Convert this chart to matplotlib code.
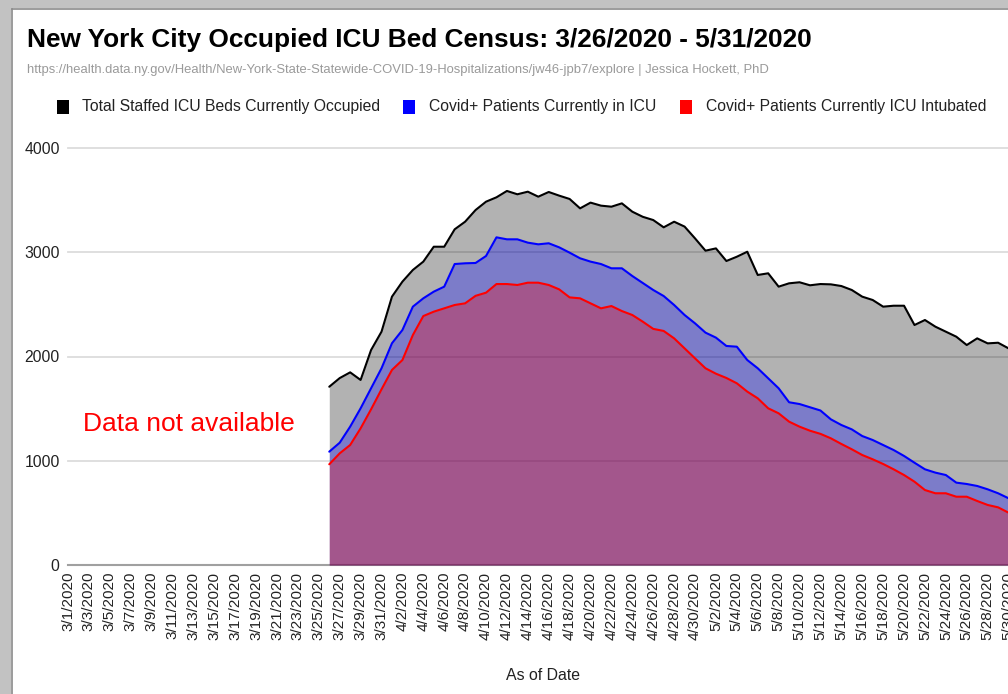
import matplotlib
matplotlib.use('Agg')
import matplotlib.pyplot as plt
from matplotlib.patches import Rectangle
from matplotlib.lines import Line2D
import numpy as np
import pandas as pd

plt.rcParams['font.family'] = ['Liberation Sans', 'DejaVu Sans']

# ---------------- data ----------------
dates = pd.date_range('2020-03-01', '2020-05-31', freq='D')
date_labels = [f"{d.month}/{d.day}/{d.year}" for d in dates]
data_start = "3/26/2020"

total_occupied = [1710, 1793, 1848, 1775, 2062, 2238, 2574, 2718, 2830, 2910,
                  3053, 3053, 3220, 3293, 3405, 3485, 3527, 3588, 3556, 3581,
                  3533, 3578, 3543, 3511, 3421, 3476, 3447, 3437, 3469, 3389,
                  3340, 3309, 3239, 3293, 3246, 3133, 3015, 3037, 2916, 2957,
                  3005, 2782, 2798, 2670, 2702, 2712, 2683, 2695, 2692, 2676,
                  2638, 2574, 2542, 2478, 2487, 2487, 2302, 2350, 2286, 2238,
                  2190, 2110, 2174, 2126, 2132, 2078, 2060]
covid_icu = [1087, 1173, 1327, 1503, 1695, 1887, 2127, 2254, 2478, 2558,
             2622, 2670, 2887, 2894, 2897, 2964, 3143, 3124, 3124, 3092,
             3076, 3086, 3047, 2996, 2942, 2910, 2887, 2846, 2846, 2772,
             2705, 2638, 2580, 2494, 2398, 2318, 2229, 2181, 2101, 2094,
             1966, 1887, 1791, 1695, 1561, 1544, 1513, 1482, 1397, 1343,
             1301, 1237, 1199, 1151, 1103, 1046, 981, 918, 886, 863,
             790, 777, 758, 726, 688, 640, 610]
covid_intubated = [966, 1071, 1151, 1311, 1493, 1685, 1871, 1966, 2206, 2388,
                   2430, 2462, 2494, 2510, 2582, 2612, 2695, 2695, 2686, 2708,
                   2708, 2686, 2644, 2567, 2558, 2510, 2462, 2484, 2436, 2398,
                   2334, 2265, 2245, 2174, 2078, 1982, 1887, 1835, 1794, 1743,
                   1663, 1599, 1503, 1455, 1375, 1327, 1288, 1258, 1215, 1161,
                   1110, 1055, 1014, 969, 918, 863, 799, 719, 688, 688,
                   655, 655, 614, 576, 553, 502, 480]

series_names = ["Total Staffed ICU Beds Currently Occupied",
                "Covid+ Patients Currently in ICU",
                "Covid+ Patients Currently ICU Intubated"]
series_colors = ['#000000', '#0000ff', '#ff0000']
y_ticks = [0, 1000, 2000, 3000, 4000]

title = "New York City Occupied ICU Bed Census: 3/26/2020 - 5/31/2020"
subtitle = ("https://health.data.ny.gov/Health/New-York-State-Statewide-COVID-19-"
            "Hospitalizations/jw46-jpb7/explore | Jessica Hockett, PhD")

# ---------------- layout ----------------
W, H = 1008, 694
fig = plt.figure(figsize=(W / 100, H / 100), dpi=100)
fig.patch.set_facecolor('white')

def fx(px):
    return px / W

def fy(py):
    return 1 - py / H

ax = fig.add_axes([fx(68), fy(565), (1019 - 68) / W, (565 - 148) / H])
ax.set_facecolor('none')
for s in ax.spines.values():
    s.set_visible(False)

start = date_labels.index(data_start)
x = np.arange(start, start + len(total_occupied))
all_series = [total_occupied, covid_icu, covid_intubated]

for v in y_ticks[1:]:
    ax.axhline(v, color='#dcdcdc', lw=1.3, zorder=0.5, clip_on=False)
ax.axhline(0, color='#a0a0a0', lw=1.5, zorder=0.6, clip_on=False)

for vals, c in zip(all_series, series_colors):
    ax.fill_between(x, 0, vals, color=c, alpha=0.3, linewidth=0, zorder=2)
for vals, c in zip(all_series, series_colors):
    ax.plot(x, vals, color=c, lw=1.5, zorder=3, solid_joinstyle='round',
            solid_capstyle='round')

ax.set_xlim(0, len(dates) - 1)
ax.set_ylim(0, 4000)
ax.set_yticks(y_ticks)
ax.set_yticklabels([str(v) for v in y_ticks], fontsize=11.3, color='#222222')
xt = list(range(0, len(dates), 2))
ax.set_xticks(xt)
ax.set_xticklabels([date_labels[i] for i in xt], rotation=90, fontsize=11,
                   color='#222222', va='top', ha='center')
ax.tick_params(axis='both', length=0)
ax.tick_params(axis='y', pad=6)
ax.tick_params(axis='x', pad=5)

# x-axis title
fig.text(fx(543), fy(675), "As of Date", fontsize=11.4, color='#222222',
         ha='center', va='center')

# annotation
fig.text(fx(83), fy(424), "Data not available", fontsize=19, color='#ff0000',
         ha='left', va='center')

# title and subtitle
fig.text(fx(27), fy(40), title, fontsize=18.9, fontweight='bold', color='#000000',
         ha='left', va='center')
fig.text(fx(27), fy(70), subtitle, fontsize=9.4, color='#9a9a9a',
         ha='left', va='center')

# legend
legend_items = [(57, 82), (403, 429), (680, 706)]
for (bx, tx), name, c in zip(legend_items, series_names, series_colors):
    fig.patches.append(Rectangle((fx(bx), fy(114)), 12 / W, 14 / H,
                                 transform=fig.transFigure, facecolor=c,
                                 edgecolor='none'))
    fig.text(fx(tx), fy(107), name, fontsize=11.3, color='#222222',
             ha='left', va='center')

# screenshot frame (gray border at top and left)
fig.patches.append(Rectangle((0, 0), fx(11), 1, transform=fig.transFigure,
                             facecolor='#c2c2c2', edgecolor='none', zorder=-1))
fig.patches.append(Rectangle((0, fy(8)), 1, 8 / H, transform=fig.transFigure,
                             facecolor='#c2c2c2', edgecolor='none', zorder=-1))
fig.lines.append(Line2D([fx(11.5), fx(11.5)], [0, fy(8.5)], transform=fig.transFigure,
                        color='#8a8a8a', lw=1.2))
fig.lines.append(Line2D([fx(11.5), 1], [fy(8.5), fy(8.5)], transform=fig.transFigure,
                        color='#8a8a8a', lw=1.2))

fig.savefig('out.png', dpi=100)
